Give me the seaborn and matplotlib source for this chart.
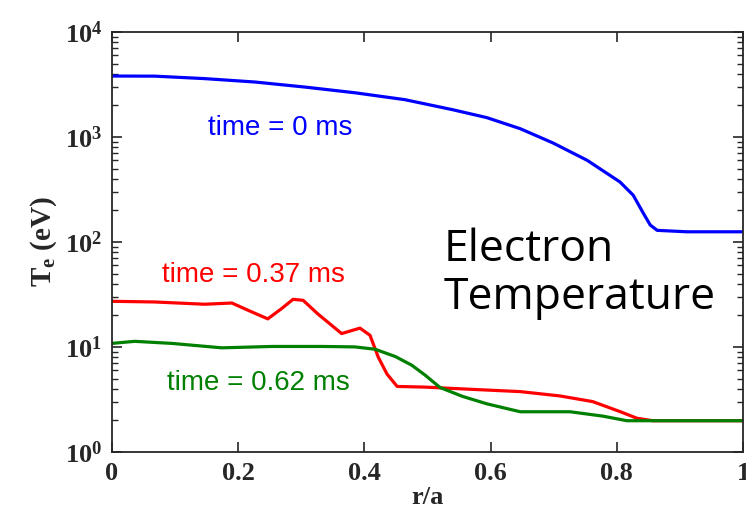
import numpy as np
import pandas as pd
import seaborn as sns
import matplotlib
matplotlib.use("Agg")
import matplotlib.pyplot as plt

# profiles (r/a, Te in eV)
r_0ms = [0.0, 0.068, 0.147, 0.227, 0.306, 0.385, 0.464, 0.540, 0.594, 0.647, 0.699,
         0.753, 0.805, 0.826, 0.842, 0.853, 0.864, 0.911, 1.0]
te_0ms = [3810, 3800, 3600, 3340, 2990, 2640, 2270, 1820, 1530, 1200, 877,
          600, 373, 279, 188, 145, 129, 125, 125]

r_037ms = [0.0, 0.068, 0.147, 0.190, 0.222, 0.247, 0.269, 0.287, 0.303, 0.326, 0.364,
           0.393, 0.409, 0.422, 0.436, 0.452, 0.496, 0.567, 0.647, 0.710, 0.762,
           0.805, 0.832, 0.857, 1.0]
te_037ms = [27.2, 26.8, 25.5, 26.2, 21.5, 18.5, 23.2, 28.4, 27.8, 20.7, 13.4,
            15.1, 12.9, 8.0, 5.5, 4.2, 4.14, 3.95, 3.75, 3.41, 3.01,
            2.42, 2.09, 1.98, 1.98]

r_062ms = [0.0, 0.036, 0.095, 0.174, 0.254, 0.333, 0.385, 0.417, 0.449, 0.475, 0.496,
           0.520, 0.556, 0.594, 0.647, 0.726, 0.778, 0.816, 1.0]
te_062ms = [10.8, 11.3, 10.8, 9.8, 10.1, 10.1, 10.0, 9.5, 8.1, 6.7, 5.4,
            4.1, 3.37, 2.87, 2.41, 2.41, 2.19, 1.98, 1.98]

labels = ["time = 0 ms", "time = 0.37 ms", "time = 0.62 ms"]
colors = ["#0000ff", "#ff0000", "#008000"]

sns.set_style("ticks")
plt.rcParams["font.family"] = ["Liberation Serif", "DejaVu Serif"]
plt.rcParams["font.weight"] = "bold"
plt.rcParams["mathtext.fontset"] = "custom"
plt.rcParams["mathtext.rm"] = "Liberation Serif:bold"
plt.rcParams["mathtext.bf"] = "Liberation Serif:bold"
plt.rcParams["mathtext.it"] = "Liberation Serif:bold"

fig = plt.figure(figsize=(7.46, 5.17), dpi=100)
ax = fig.add_axes([0.150, 0.126, 0.846, 0.812])

for r, te, c in zip([r_0ms, r_037ms, r_062ms], [te_0ms, te_037ms, te_062ms], colors):
    sns.lineplot(x=r, y=te, color=c, lw=2.3, ax=ax, sort=False)

ax.set_yscale("log")
ax.set_xlim(0, 1)
ax.set_ylim(1, 1e4)
ax.set_xticks([0, 0.2, 0.4, 0.6, 0.8, 1])
ax.set_xticklabels(["0", "0.2", "0.4", "0.6", "0.8", "1"])
ax.tick_params(which="both", direction="in", top=True, right=True, labelsize=19, pad=7)
ax.tick_params(which="major", length=7, width=1.2)
ax.tick_params(which="minor", length=4, width=1.0)
for s in ax.spines.values():
    s.set_linewidth(1.3)

ax.set_xlabel("r/a", fontsize=19, fontweight="bold", labelpad=1)
ax.set_ylabel(r"$\mathrm{T_e}$ (eV)", fontsize=21, fontweight="bold", labelpad=4)

sans = ["Arial", "Liberation Sans", "DejaVu Sans"]
ax.text(0.153, 1230, labels[0], color=colors[0], fontsize=20, family=sans,
        weight="normal", va="center", ha="left")
ax.text(0.08, 48, labels[1], color=colors[1], fontsize=20, family=sans,
        weight="normal", va="center", ha="left")
ax.text(0.087, 4.5, labels[2], color=colors[2], fontsize=20, family=sans,
        weight="normal", va="center", ha="left")
ax.text(0.525, 50, "Electron\nTemperature", color="black", fontsize=32,
        family=["Open Sans", "DejaVu Sans"], weight="normal", va="center",
        ha="left", linespacing=1.12)

fig.savefig("out.png", dpi=100)
